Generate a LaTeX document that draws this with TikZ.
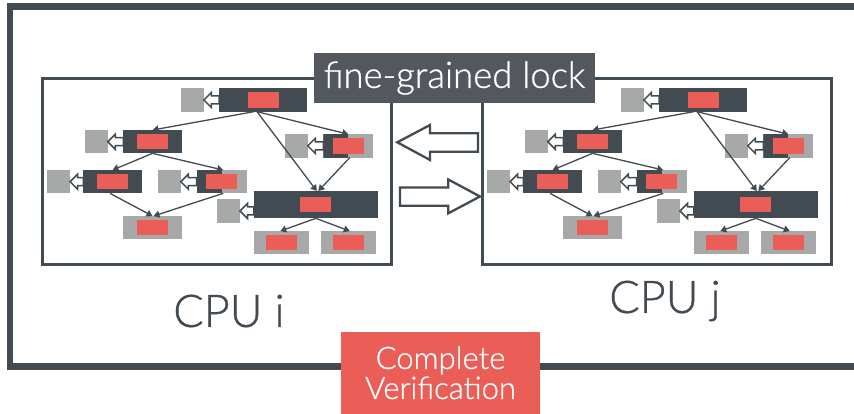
\documentclass[tikz,border=0pt]{standalone}
\usepackage{fontspec}
\IfFontExistsTF{Lato Light}{\setmainfont{Lato Light}[FakeBold=0.8]}{\setmainfont{Lato}}
\usetikzlibrary{calc,arrows.meta}
\definecolor{darkc}{HTML}{434B52}
\definecolor{greyc}{HTML}{A6A9A7}
\definecolor{redc}{HTML}{EB5E58}
\definecolor{labelc}{HTML}{53585F}
\tikzset{
  box/.style={inner sep=0pt, outer sep=0pt, draw=none},
  gsq/.style={box, fill=greyc, minimum width=22.7pt, minimum height=23.3pt},
  dk/.style={box, fill=darkc, minimum height=23.3pt},
  gr/.style={box, fill=greyc, minimum height=23.3pt},
  split/.style={box, fill=greyc, minimum height=23.3pt,
    path picture={\fill[darkc] (path picture bounding box.south west) rectangle (path picture bounding box.north);}},
  rd/.style={box, fill=redc, minimum width=31pt, minimum height=15.5pt},
  edge/.style={draw=darkc, line width=1.3pt, -{Triangle[length=6pt,width=7pt]}},
  lockarr/.style={draw=darkc, fill=white, line width=1.5pt, line join=miter},
  bigarr/.style={draw=darkc, fill=white, line width=2.3pt, line join=miter},
  cpubox/.style={draw=darkc, line width=3pt},
  frame/.style={draw=darkc, line width=6.5pt, line join=miter},
}
\newcommand\lk[2]{%
  \draw[lockarr] (#1.east) -- ++(7.5,-7.5) -- ++(0,3.5) -- ($(#1.east -| #2.west)+(0,-4)$)
    -- ++(0,8) -- ($(#1.east)+(7.5,4)$) -- ++(0,3.5) -- cycle;}
\newcommand\cputree{%
  \node[gsq] (A1) at (192.5,100) {};
  \node[dk, minimum width=87.7pt] (A) at (263,100) {};
  \node[gsq] (B1) at (96.4,141.7) {};
  \node[dk, minimum width=58.4pt] (B) at (152.5,141.7) {};
  \node[gsq] (C1) at (296.4,145.9) {};
  \node[split, minimum width=50pt] (C) at (348.3,145.9) {};
  \node[gsq] (D1) at (58.7,181.7) {};
  \node[dk, minimum width=58.4pt] (D) at (112.5,181.7) {};
  \node[gsq] (E1) at (169.5,181.7) {};
  \node[split, minimum width=50pt] (E) at (221.7,181.7) {};
  \node[gr, minimum width=58.4pt] (F) at (152.5,227.7) {};
  \node[gsq] (G1) at (228.7,211) {};
  \node[dk, minimum width=123.7pt, minimum height=27.3pt] (G) at (315.8,204.7) {};
  \node[gr, minimum width=54.7pt] (H) at (281.3,242.7) {};
  \node[gr, minimum width=54.7pt] (I) at (348.3,242.7) {};
  \foreach \n in {A,B,C,D,E,F,G,H,I} {\node[rd] (\n r) at (\n.center) {};}
  \lk{A1}{A} \lk{B1}{B} \lk{C1}{C} \lk{D1}{D} \lk{E1}{E} \lk{G1}{G}
  \draw[edge] ($(A.south)+(-9,0)$) -- (B.north);
  \draw[edge] ($(A.south)+(-6,0)$) -- (C.north);
  \draw[edge] ($(A.south)+(-6,0)$) -- ($(G.north)+(1,0)$);
  \draw[edge] ($(C.south)+(1.5,0)$) -- ($(G.north)+(2.5,0)$);
  \draw[edge] (B.south) -- (D.north);
  \draw[edge] (B.south) -- ($(E.north)+(1.5,0)$);
  \draw[edge] ($(D.south)+(-2.5,0)$) -- (F.north);
  \draw[edge] ($(E.south)+(1.5,0)$) -- ($(F.north)+(1,0)$);
  \draw[edge] (G.south) -- ($(H.north)+(-1,0)$);
  \draw[edge] (G.south) -- ($(I.north)+(1.5,0)$);
}
\begin{document}
\begin{tikzpicture}[x=1pt,y=-1pt]
\useasboundingbox (0,0) rectangle (854,414);
\clip (0,0) rectangle (854,414);
\fill[white] (0,0) rectangle (854,414);
% outer frame
\draw[frame] (870,6.3) -- (9.8,6.3) -- (9.8,366.5) -- (870,366.5);
% CPU boxes
\draw[cpubox] (42.4,78.8) rectangle (391.7,264.3);
\draw[cpubox] (482.5,78.8) rectangle (831.5,264.3);
\begin{scope}[name prefix=L-]
\cputree
\end{scope}
\begin{scope}[shift={(440,0)}, name prefix=R-]
\cputree
\end{scope}
% exchange arrows
\draw[bigarr] (397.3,142.3) -- (430,125) -- (430,133.3) -- (478,133.3) -- (478,151.7) -- (430,151.7) -- (430,160) -- cycle;
\draw[bigarr] (480,196.5) -- (448.3,179.5) -- (448.3,187.5) -- (400,187.5) -- (400,205.7) -- (448.3,205.7) -- (448.3,213.3) -- cycle;
% label
\node[box, fill=labelc, minimum width=281pt, minimum height=49.4pt, text=white,
  font=\fontsize{36.5}{40}\selectfont] (lock) at (454.5,78) {fine-grained lock};
% CPU labels
\node[box, text=darkc, font=\fontsize{45}{50}\selectfont] (cpui) at (229,311) {CPU i};
\node[box, text=darkc, font=\fontsize{45}{50}\selectfont] (cpuj) at (665,301) {CPU j};
% verification
\node[box, fill=redc, minimum width=199pt, minimum height=82.3pt, text=white, align=center,
  font=\fontsize{31}{30}\selectfont] (cv) at (440.5,372.8) {Complete\\Verification};
\end{tikzpicture}
\end{document}
